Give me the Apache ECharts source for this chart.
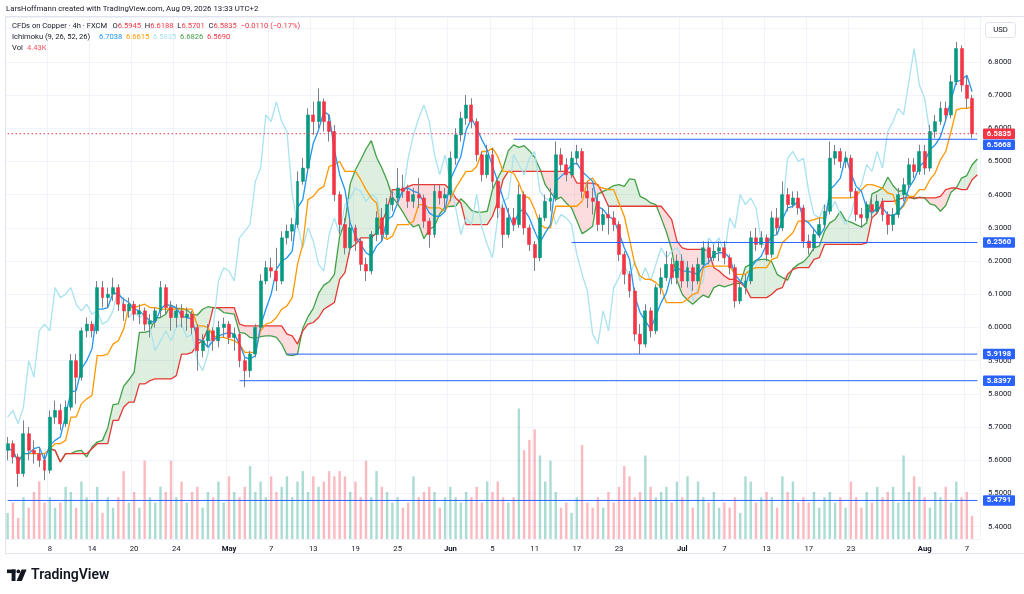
<!DOCTYPE html>
<html lang="en">
<head>
<meta charset="UTF-8">
<title>CFDs on Copper · 4h · FXCM</title>
<script src="https://cdn.jsdelivr.net/npm/echarts@6/dist/echarts.min.js"></script>
<style>
    * { margin: 0; padding: 0; box-sizing: border-box; }
    html, body { width: 100%; height: 100%; background: #fff; overflow: hidden; }
    #chart { width: 1024px; height: 594px; }
</style>
</head>
<body>
<div id="chart"></div>
<script>
// bars are 12h buckets, two per trading day
const firstDay = '2026-04-02';
const lastDay = '2026-08-07';

// [open, close, low, high]
const candles = [
    [5.63,5.65,5.60,5.67], [5.65,5.61,5.59,5.66], // Apr 2
    [5.61,5.56,5.52,5.62], [5.56,5.68,5.55,5.72], // Apr 3
    [5.68,5.63,5.60,5.70], [5.63,5.62,5.59,5.66], // Apr 6
    [5.62,5.60,5.58,5.64], [5.60,5.57,5.54,5.62], // Apr 7
    [5.57,5.73,5.56,5.75], [5.73,5.75,5.71,5.78], // Apr 8
    [5.75,5.71,5.69,5.77], [5.71,5.76,5.70,5.78], // Apr 9
    [5.76,5.90,5.75,5.92], [5.90,5.85,5.77,5.92], // Apr 10
    [5.85,5.99,5.84,6.00], [5.99,6.01,5.97,6.03], // Apr 13
    [6.01,5.99,5.97,6.02], [5.99,6.12,5.98,6.14], // Apr 14
    [6.12,6.09,6.06,6.14], [6.09,6.10,6.06,6.12], // Apr 15
    [6.10,6.12,6.08,6.15], [6.12,6.07,6.05,6.13], // Apr 16
    [6.07,6.05,6.02,6.09], [6.05,6.07,6.03,6.09], // Apr 17
    [6.07,6.04,6.02,6.08], [6.04,6.05,6.01,6.07], // Apr 20
    [6.05,6.01,5.99,6.06], [6.01,6.02,5.97,6.04], // Apr 21
    [6.02,6.05,6.00,6.06], [6.05,6.12,6.03,6.14], // Apr 22
    [6.12,6.06,6.04,6.13], [6.06,6.03,5.99,6.08], // Apr 23
    [6.03,6.05,6.00,6.07], [6.05,6.03,6.00,6.07], // Apr 24
    [6.03,6.04,5.99,6.06], [6.04,6.00,5.98,6.05], // Apr 27
    [6.00,5.93,5.87,6.01], [5.93,5.96,5.91,5.98], // Apr 28
    [5.96,5.99,5.94,6.01], [5.99,5.96,5.93,6.00], // Apr 29
    [5.96,6.00,5.94,6.02], [6.00,6.01,5.97,6.03], // Apr 30
    [6.01,5.97,5.95,6.02], [5.97,5.98,5.93,6.00], // May 1
    [5.98,5.90,5.88,5.99], [5.90,5.87,5.82,5.91], // May 4
    [5.87,5.92,5.85,5.93], [5.92,6.00,5.91,6.01], // May 5
    [6.00,6.14,5.99,6.16], [6.14,6.18,6.13,6.20], // May 6
    [6.18,6.17,6.15,6.21], [6.17,6.14,6.11,6.24], // May 7
    [6.14,6.27,6.13,6.29], [6.27,6.29,6.25,6.31], // May 8
    [6.29,6.31,6.26,6.33], [6.31,6.44,6.30,6.47], // May 11
    [6.44,6.48,6.43,6.51], [6.48,6.64,6.47,6.66], // May 12
    [6.64,6.62,6.58,6.68], [6.62,6.68,6.60,6.72], // May 13
    [6.68,6.62,6.59,6.69], [6.62,6.59,6.56,6.64], // May 14
    [6.59,6.40,6.38,6.61], [6.40,6.31,6.28,6.41], // May 15
    [6.31,6.24,6.22,6.33], [6.24,6.30,6.22,6.33], // May 18
    [6.30,6.26,6.23,6.31], [6.26,6.19,6.17,6.27], // May 19
    [6.19,6.17,6.14,6.21], [6.17,6.28,6.16,6.29], // May 20
    [6.28,6.33,6.26,6.35], [6.33,6.28,6.26,6.36], // May 21
    [6.28,6.37,6.27,6.39], [6.37,6.39,6.35,6.41], // May 22
    [6.39,6.42,6.37,6.48], [6.42,6.41,6.39,6.46], // May 25
    [6.41,6.38,6.36,6.43], [6.38,6.40,6.36,6.42], // May 26
    [6.40,6.39,6.36,6.45], [6.39,6.32,6.30,6.40], // May 27
    [6.32,6.28,6.24,6.33], [6.28,6.41,6.27,6.43], // May 28
    [6.41,6.39,6.37,6.43], [6.39,6.40,6.36,6.42], // May 29
    [6.40,6.51,6.38,6.53], [6.51,6.58,6.49,6.60], // Jun 1
    [6.58,6.63,6.56,6.65], [6.63,6.67,6.61,6.70], // Jun 2
    [6.67,6.62,6.60,6.69], [6.62,6.52,6.50,6.63], // Jun 3
    [6.52,6.46,6.44,6.53], [6.46,6.52,6.45,6.55], // Jun 4
    [6.52,6.44,6.42,6.54], [6.44,6.36,6.33,6.45], // Jun 5
    [6.36,6.28,6.24,6.37], [6.28,6.33,6.27,6.36], // Jun 8
    [6.33,6.31,6.29,6.36], [6.31,6.40,6.30,6.43], // Jun 9
    [6.40,6.30,6.28,6.41], [6.30,6.25,6.23,6.31], // Jun 10
    [6.25,6.21,6.17,6.26], [6.21,6.33,6.20,6.34], // Jun 11
    [6.33,6.38,6.32,6.40], [6.38,6.39,6.35,6.42], // Jun 12
    [6.39,6.52,6.38,6.56], [6.52,6.49,6.47,6.54], // Jun 15
    [6.49,6.46,6.44,6.51], [6.46,6.51,6.45,6.53], // Jun 16
    [6.51,6.53,6.49,6.55], [6.53,6.41,6.39,6.54], // Jun 17
    [6.41,6.39,6.36,6.44], [6.39,6.38,6.34,6.42], // Jun 18
    [6.38,6.31,6.29,6.39], [6.31,6.34,6.29,6.36], // Jun 19
    [6.34,6.33,6.28,6.37], [6.33,6.31,6.29,6.35], // Jun 22
    [6.31,6.22,6.20,6.32], [6.22,6.16,6.13,6.23], // Jun 23
    [6.16,6.11,6.09,6.17], [6.11,5.98,5.96,6.12], // Jun 24
    [5.98,5.95,5.92,6.01], [5.95,6.05,5.94,6.07], // Jun 25
    [6.05,5.99,5.97,6.06], [5.99,6.12,5.98,6.13], // Jun 26
    [6.12,6.15,6.10,6.18], [6.15,6.19,6.14,6.23], // Jun 29
    [6.19,6.15,6.13,6.21], [6.15,6.20,6.13,6.22], // Jun 30
    [6.20,6.14,6.12,6.22], [6.14,6.18,6.12,6.20], // Jul 1
    [6.18,6.14,6.11,6.19], [6.14,6.19,6.13,6.21], // Jul 2
    [6.19,6.24,6.18,6.26], [6.24,6.21,6.19,6.26], // Jul 3
    [6.21,6.23,6.20,6.25], [6.23,6.24,6.20,6.26], // Jul 6
    [6.24,6.21,6.19,6.26], [6.21,6.18,6.16,6.22], // Jul 7
    [6.18,6.08,6.06,6.19], [6.08,6.12,6.07,6.13], // Jul 8
    [6.12,6.14,6.10,6.16], [6.14,6.27,6.13,6.29], // Jul 9
    [6.27,6.25,6.23,6.30], [6.25,6.27,6.24,6.29], // Jul 10
    [6.27,6.22,6.20,6.28], [6.22,6.33,6.21,6.35], // Jul 13
    [6.33,6.30,6.28,6.36], [6.30,6.40,6.29,6.44], // Jul 14
    [6.40,6.37,6.35,6.42], [6.37,6.39,6.36,6.41], // Jul 15
    [6.39,6.36,6.34,6.41], [6.36,6.26,6.24,6.37], // Jul 16
    [6.26,6.24,6.22,6.28], [6.24,6.28,6.23,6.30], // Jul 17
    [6.28,6.31,6.27,6.33], [6.31,6.35,6.30,6.37], // Jul 20
    [6.35,6.51,6.34,6.56], [6.51,6.53,6.49,6.55], // Jul 21
    [6.53,6.50,6.48,6.54], [6.50,6.51,6.48,6.53], // Jul 22
    [6.51,6.41,6.39,6.52], [6.41,6.34,6.32,6.42], // Jul 23
    [6.34,6.33,6.30,6.36], [6.33,6.37,6.32,6.38], // Jul 24
    [6.37,6.35,6.33,6.39], [6.35,6.38,6.34,6.40], // Jul 27
    [6.38,6.34,6.32,6.39], [6.34,6.31,6.28,6.35], // Jul 28
    [6.31,6.34,6.29,6.36], [6.34,6.40,6.33,6.42], // Jul 29
    [6.40,6.43,6.38,6.45], [6.43,6.49,6.42,6.51], // Jul 30
    [6.49,6.47,6.45,6.51], [6.47,6.53,6.46,6.55], // Jul 31
    [6.53,6.48,6.46,6.55], [6.48,6.59,6.47,6.61], // Aug 3
    [6.59,6.62,6.57,6.64], [6.62,6.66,6.61,6.68], // Aug 4
    [6.66,6.64,6.62,6.68], [6.64,6.74,6.63,6.76], // Aug 5
    [6.74,6.84,6.73,6.86], [6.84,6.73,6.71,6.85], // Aug 6
    [6.73,6.69,6.66,6.76], [6.69,6.5835,6.5701,6.70] // Aug 7
];

// volume per bar, K
const volumes = [
    5, 7, 4, 8, 6, 9, 11, 7,
    8, 6, 7, 10, 9, 6, 11, 8,
    7, 10, 5, 8, 6, 8, 13, 7,
    9, 6, 15, 8, 7, 10, 9, 15,
    8, 11, 7, 9, 10, 6, 9, 8,
    11, 7, 12, 9, 8, 10, 14, 9,
    11, 8, 12, 9, 10, 12, 8, 11,
    13, 9, 12, 10, 11, 13, 12, 13,
    12, 9, 11, 8, 15, 8, 13, 10,
    9, 7, 8, 6, 7, 12, 8, 9,
    10, 9, 6, 8, 10, 8, 7, 9,
    8, 10, 7, 11, 9, 11, 8, 7,
    8, 25, 17, 19, 21, 16, 11, 15,
    9, 6, 7, 5, 8, 18, 7, 6,
    8, 6, 9, 7, 10, 14, 12, 8,
    9, 16, 10, 8, 9, 10, 7, 11,
    8, 12, 6, 11, 8, 7, 9, 6,
    7, 6, 8, 5, 12, 11, 7, 8,
    9, 8, 6, 12, 9, 11, 7, 8,
    7, 9, 6, 8, 9, 7, 8, 6,
    11, 8, 6, 9, 7, 10, 8, 9,
    10, 7, 16, 9, 12, 10, 8, 6,
    9, 8, 10, 7, 11, 8, 9, 4.43
];

// time axis ticks
const tickDays = ['Apr 8', 'Apr 14', 'Apr 20', 'Apr 24', 'May 1', 'May 7', 'May 13', 'May 19', 'May 25',
    'Jun 1', 'Jun 5', 'Jun 11', 'Jun 17', 'Jun 23', 'Jul 1', 'Jul 7', 'Jul 13', 'Jul 17', 'Jul 23', 'Aug 3', 'Aug 7'];
const tickLabels = ['8', '14', '20', '24', 'May', '7', '13', '19', '25',
    'Jun', '5', '11', '17', '23', 'Jul', '7', '13', '17', '23', 'Aug', '7'];

// horizontal levels and the bar each one starts from
const levels = [6.5668, 6.2560, 5.9198, 5.8397, 5.4791];
const levelFrom = [96, 107, 53, 44, 0];
const lastPrice = 6.5835;

// legend texts
const legendOHLC = ['6.5945', '6.6188', '6.5701', '6.5835'];
const legendChange = '\u22120.0110 (\u22120.17%)';
const legendIchimoku = ['6.7038', '6.6615', '6.5835', '6.6826', '6.5690'];
const legendVol = '4.43K';

// Ichimoku 9/26/52/26 on 4h, rescaled to the 12h buckets above
const TENKAN = 3, KIJUN = 9, SPANB = 17, SHIFT = 8;

// ---- categories ----
const MONTHS = ['Jan', 'Feb', 'Mar', 'Apr', 'May', 'Jun', 'Jul', 'Aug', 'Sep', 'Oct', 'Nov', 'Dec'];
const days = [];
for (let d = new Date(firstDay + 'T12:00:00Z'); d <= new Date(lastDay + 'T12:00:00Z'); d.setUTCDate(d.getUTCDate() + 1)) {
    const wd = d.getUTCDay();
    if (wd === 0 || wd === 6) continue;
    days.push(MONTHS[d.getUTCMonth()] + ' ' + d.getUTCDate());
}
const categories = [];
days.forEach(d => { categories.push(d + ' 00h'); categories.push(d + ' 12h'); });
categories.push('next'); // room for the forward cloud
if (categories.length - 1 !== candles.length) console.warn('bars/days mismatch', candles.length, days.length);

const labelAt = {};
tickDays.forEach((d, k) => {
    const idx = categories.indexOf(d + ' 00h');
    if (idx >= 0) labelAt[idx] = tickLabels[k];
});

// ---- Ichimoku from the candles ----
const N = categories.length;
const closes = candles.map(c => c[1]);
const lows = candles.map(c => c[2]);
const highs = candles.map(c => c[3]);

function midRange(i, n) {
    let hi = -Infinity, lo = Infinity;
    for (let k = Math.max(0, i - n + 1); k <= i; k++) {
        hi = Math.max(hi, highs[k]);
        lo = Math.min(lo, lows[k]);
    }
    return (hi + lo) / 2;
}

const tenkan = [], kijun = [];
const spanA = new Array(N).fill(null), spanB = new Array(N).fill(null), chikou = new Array(N).fill(null);
for (let i = 0; i < candles.length; i++) {
    tenkan[i] = midRange(i, TENKAN);
    kijun[i] = midRange(i, KIJUN);
    if (i + SHIFT < N) {
        spanA[i + SHIFT] = (tenkan[i] + kijun[i]) / 2;
        spanB[i + SHIFT] = midRange(i, SPANB);
    }
    if (i - SHIFT >= 0) chikou[i - SHIFT] = closes[i];
}
const cloudBase = spanA.map((a, i) => a == null ? null : Math.min(a, spanB[i]));
const cloudUp = spanA.map((a, i) => a == null ? null : (a >= spanB[i] ? a - spanB[i] : 0));
const cloudDown = spanA.map((a, i) => a == null ? null : (spanB[i] > a ? spanB[i] - a : 0));

// ---- colors ----
const UP = '#089981', DOWN = '#f23645', WICK = '#7b7f8a', LEVEL = '#2962ff';
const FONT = 'Roboto, Arial, sans-serif';

function line(name, data, color, z) {
    return {
        name, type: 'line', data, z, symbol: 'none', silent: true, smooth: false,
        lineStyle: { color, width: 1.3 }
    };
}

// horizontal levels as plain two-point lines
const levelSeries = levels.map((v, k) => ({
    name: 'level ' + v, type: 'line', z: 7, symbol: 'none', silent: true,
    data: [[levelFrom[k], v], [N - 1, v]],
    lineStyle: { color: LEVEL, width: 1 }
}));
const priceLine = {
    name: 'last', type: 'line', z: 7, symbol: 'none', silent: true,
    data: [[0, lastPrice], [N - 1, lastPrice]],
    lineStyle: { color: DOWN, width: 1, type: [1.5, 2.5] }
};

const option = {
    animation: false,
    backgroundColor: '#ffffff',
    textStyle: { fontFamily: FONT },
    grid: { left: 5, right: 44, top: 17, bottom: 55, outerBoundsMode: 'none' },
    xAxis: {
        type: 'category',
        data: categories,
        boundaryGap: true,
        axisLine: { show: false },
        axisTick: { show: false },
        axisLabel: {
            interval: (idx) => labelAt[idx] !== undefined,
            formatter: (v, idx) => {
                const t = labelAt[idx];
                if (t === undefined) return '';
                return /^[A-Z]/.test(t) ? '{m|' + t + '}' : t;
            },
            color: '#131722', fontSize: 7.7, margin: 6,
            rich: { m: { fontWeight: 'bold', fontSize: 7.7, color: '#131722' } }
        },
        splitLine: {
            show: true,
            interval: (idx) => labelAt[idx] !== undefined,
            lineStyle: { color: '#f0f3fa', width: 1 }
        }
    },
    yAxis: [
        {
            type: 'value', position: 'right',
            min: 5.363, max: 6.935, splitNumber: 15,
            axisLine: { show: false }, axisTick: { show: false },
            axisLabel: {
                color: '#131722', fontSize: 7.7, margin: 8,
                showMinLabel: false, showMaxLabel: false,
                formatter: v => v.toFixed(4)
            },
            splitLine: { lineStyle: { color: '#f0f3fa', width: 1 } }
        },
        { type: 'value', min: 0, max: 100, show: false }
    ],
    series: [
        {
            name: 'Vol', type: 'bar', yAxisIndex: 1, z: 1, silent: true, barWidth: 2.4,
            data: volumes.map((v, i) => ({
                value: v,
                itemStyle: { color: candles[i][1] >= candles[i][0] ? 'rgba(8,153,129,0.34)' : 'rgba(242,54,69,0.34)' }
            }))
        },
        { name: 'cloudBase', type: 'line', stack: 'cloud', data: cloudBase, z: 2, symbol: 'none', silent: true, lineStyle: { width: 0, opacity: 0 } },
        { name: 'cloudUp', type: 'line', stack: 'cloud', data: cloudUp, z: 2, symbol: 'none', silent: true, lineStyle: { width: 0, opacity: 0 }, areaStyle: { color: 'rgba(67,160,71,0.25)' } },
        { name: 'cloudDown', type: 'line', stack: 'cloud', data: cloudDown, z: 2, symbol: 'none', silent: true, lineStyle: { width: 0, opacity: 0 }, areaStyle: { color: 'rgba(242,54,69,0.25)' } },
        line('Lead 1', spanA, '#43a047', 3),
        line('Lead 2', spanB, '#e53935', 3),
        line('Lagging Span', chikou, '#a9e3ef', 3),
        line('Base Line', kijun, '#ff9800', 4),
        line('Conversion Line', tenkan, '#2196f3', 4),
        {
            name: 'wicks', type: 'candlestick', z: 5, silent: true, barWidth: 1,
            data: candles.map(c => [c[1], c[1], c[2], c[3]]),
            itemStyle: { color: WICK, color0: WICK, borderColor: WICK, borderColor0: WICK, borderColorDoji: WICK, borderWidth: 1 }
        },
        {
            name: 'CFDs on Copper', type: 'candlestick', z: 6, silent: true, barWidth: 3.4,
            data: candles.map(c => [c[0], c[1], Math.min(c[0], c[1]), Math.max(c[0], c[1])]),
            itemStyle: { color: UP, color0: DOWN, borderColor: UP, borderColor0: DOWN, borderColorDoji: UP, borderWidth: 0.6 }
        },
        priceLine
    ].concat(levelSeries)
};

const chart = echarts.init(document.getElementById('chart'), null, { renderer: 'canvas' });
chart.setOption(option);

// ---- text and overlays ----
const FS = '7.6px ' + FONT;
function txt(x, y, text, fill, font) {
    return { type: 'text', x, y, z: 50, silent: true, style: { text, fill, font: font || FS, verticalAlign: 'middle' } };
}
const g = [];
g.push({ type: 'rect', silent: true, z: 0, shape: { x: 5.5, y: 16.5, width: 1030, height: 537 }, style: { fill: 'none', stroke: '#e0e3eb', lineWidth: 1 } });
g.push(txt(6, 9.5, 'LarsHoffmann created with TradingView.com, Aug 09, 2026 13:33 UTC+2', '#131722', '7.8px ' + FONT));
g.push(txt(12, 26.5, 'CFDs on Copper \u00b7 4h \u00b7 FXCM', '#131722'));
// OHLC legend as one rich string so spacing follows the font
g.push({
    type: 'text', x: 112.5, y: 26.5, z: 50, silent: true,
    style: {
        text: 'O{r|' + legendOHLC[0] + '}  H{r|' + legendOHLC[1] + '}  L{r|' + legendOHLC[2] + '}  C{r|' +
            legendOHLC[3] + '}  {r|' + legendChange + '}',
        fill: '#131722', font: FS, verticalAlign: 'middle',
        rich: { r: { fill: DOWN, font: FS } }
    }
});
g.push(txt(12, 37.5, 'Ichimoku (9, 26, 52, 26)', '#131722'));
const ichiColors = ['#2196f3', '#ff9800', '#a9e3ef', '#43a047', '#f23645'];
legendIchimoku.forEach((v, j) => g.push(txt(99 + j * 27, 37.5, v, ichiColors[j])));
g.push(txt(12, 48.5, 'Vol', '#131722'));
g.push(txt(27, 48.5, legendVol, '#f7525f'));

// USD box
g.push({ type: 'rect', silent: true, z: 50, shape: { x: 985.5, y: 22.5, width: 30, height: 15, r: 3 }, style: { fill: '#fff', stroke: '#e0e3eb', lineWidth: 1 } });
g.push({ type: 'text', silent: true, z: 51, x: 1000.5, y: 30, style: { text: 'USD', fill: '#131722', font: '7.7px ' + FONT, align: 'center', verticalAlign: 'middle' } });

// TradingView logo
g.push({ type: 'rect', silent: true, z: 50, shape: { x: 7, y: 569.5, width: 8.5, height: 3.6 }, style: { fill: '#131722' } });
g.push({ type: 'rect', silent: true, z: 50, shape: { x: 11.6, y: 569.5, width: 3.9, height: 11.5 }, style: { fill: '#131722' } });
g.push({ type: 'circle', silent: true, z: 50, shape: { cx: 18.4, cy: 571.4, r: 1.9 }, style: { fill: '#131722' } });
g.push({ type: 'polygon', silent: true, z: 50, shape: { points: [[21.6, 569.5], [26.6, 569.5], [21.8, 581], [16.6, 581]] }, style: { fill: '#131722' } });
g.push({ type: 'text', silent: true, z: 50, x: 31, y: 575.5, style: { text: 'TradingView', fill: '#131722', font: '600 14px ' + FONT, verticalAlign: 'middle' } });

// price tags on the right axis, pushed apart where they collide
const tags = [{ v: lastPrice, color: DOWN }].concat(levels.map(v => ({ v, color: LEVEL })));
tags.forEach(t => { t.y = chart.convertToPixel({ yAxisIndex: 0 }, t.v); });
tags.sort((a, b) => a.y - b.y);
const TAG_H = 10.5;
let prevBottom = -Infinity;
tags.forEach(t => {
    let top = t.y - TAG_H / 2;
    if (top < prevBottom + 0.5) top = prevBottom + 0.5;
    prevBottom = top + TAG_H;
    g.push({ type: 'rect', silent: true, z: 60, shape: { x: 983, y: top, width: 32, height: TAG_H, r: 1 }, style: { fill: t.color } });
    g.push({ type: 'text', silent: true, z: 61, x: 999, y: top + TAG_H / 2, style: { text: t.v.toFixed(4), fill: '#ffffff', font: 'bold 7.7px ' + FONT, align: 'center', verticalAlign: 'middle' } });
});

chart.setOption({ graphic: g });
</script>
</body>
</html>
